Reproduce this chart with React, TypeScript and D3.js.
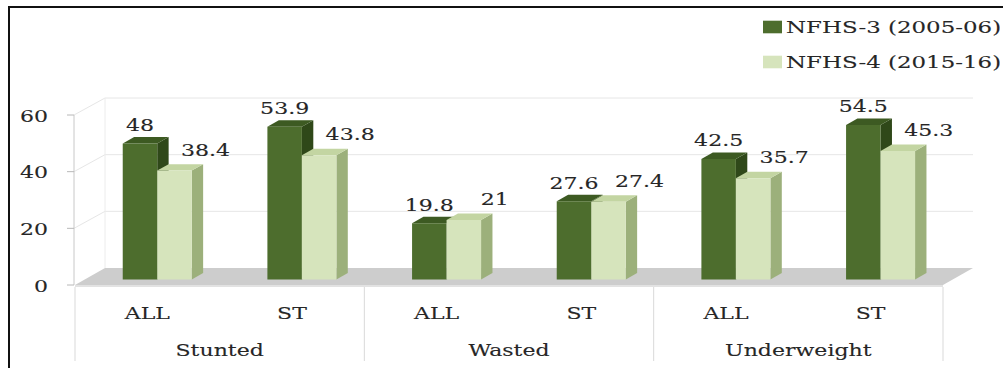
import React from "react";
import * as d3 from "d3";

// Nutrition indicators by survey round, 3-D clustered columns
const groups = ["Stunted", "Wasted", "Underweight"];
const subCats = ["ALL", "ST"];
const seriesNames = ["NFHS-3 (2005-06)", "NFHS-4 (2015-16)"];
const nfhs3 = [48, 53.9, 19.8, 27.6, 42.5, 54.5];
const nfhs4 = [38.4, 43.8, 21, 27.4, 35.7, 45.3];
const yTicks = [0, 20, 40, 60];

const W = 1003;
const H = 368;
const FONT = "'DejaVu Serif', serif";
const SX = 1.26; // horizontal stretch of all lettering
const TXT = "#262626";

// oblique depth offset of the back plane
const DX = 30;
const DY = -17;
const D0 = 0.33; // bar front depth
const D1 = 0.71; // bar back depth

const palette = [
  { front: "#4d6d2d", top: "#3d5a22", side: "#2f4819" },
  { front: "#d6e4bc", top: "#c3d5a2", side: "#9cb07b" },
];

const cells = groups.flatMap((g) => subCats.map((s) => ({ group: g, sub: s })));

function T({ x, y, anchor = "middle", children, size = 17.5, sx = SX }: any) {
  return (
    <text
      transform={`translate(${x},${y}) scale(${sx},1)`}
      textAnchor={anchor}
      fontFamily={FONT}
      fontSize={size}
      fill={TXT}
      stroke={TXT}
      strokeWidth={0.12}
    >
      {children}
    </text>
  );
}

export default function App() {
  const x = d3.scaleBand<number>().domain(d3.range(cells.length)).range([75, 943]).padding(0);
  const y = d3.scaleLinear().domain([0, 60]).range([285, 115]);
  const gx = d3.scaleBand<string>().domain(groups).range([75, 943]);
  const barW = 34.5;
  const inner = d3.scaleBand<number>().domain([0, 1]).range([-barW, barW]);

  const x0 = x.range()[0];
  const x1 = x.range()[1];
  const yB = (v: number) => y(v) + DY;

  const pt = (px: number, py: number, d: number) => `${px + d * DX},${py + d * DY}`;

  const bars: any[] = [];
  const labels: any[] = [];
  cells.forEach((_, i) => {
    const c = x(i)! + x.bandwidth() / 2;
    [nfhs3[i], nfhs4[i]].forEach((v, s) => {
      const l = c + inner(s)!;
      const r = l + barW;
      const b = y(0);
      const t = y(v);
      const col = palette[s];
      const front = `M${pt(l, b, D0)}L${pt(r, b, D0)}L${pt(r, t, D0)}L${pt(l, t, D0)}Z`;
      const top = `M${pt(l, t, D0)}L${pt(r, t, D0)}L${pt(r, t, D1)}L${pt(l, t, D1)}Z`;
      const side = `M${pt(r, b, D0)}L${pt(r, b, D1)}L${pt(r, t, D1)}L${pt(r, t, D0)}Z`;
      bars.push(
        <g key={`b${i}-${s}`}>
          <path d={side} fill={col.side} />
          <path d={top} fill={col.top} />
          <path d={front} fill={col.front} />
        </g>
      );
      const fc = (l + r) / 2 + D0 * DX;
      const fy = t + D0 * DY;
      labels.push(
        <T key={`l${i}-${s}`} x={s === 0 ? fc : fc + 31} y={s === 0 ? fy - 12.5 : fy - 15}>
          {String(v)}
        </T>
      );
    });
  });

  const floor = `M${x0},${y(0)}L${x1},${y(0)}L${x1 + DX},${yB(0)}L${x0 + DX},${yB(0)}Z`;

  return (
    <div style={{ position: "fixed", left: 0, top: 0, width: W, height: H, background: "#fff" }}>
      <svg width={W} height={H} style={{ display: "block" }}>
        <rect width={W} height={H} fill="#fff" />
        {/* walls: gridlines on side and back */}
        {yTicks.slice(1).map((v) => (
          <path
            key={`g${v}`}
            d={`M${x0 - 1},${y(v)}L${x0 + DX},${yB(v)}L${x1 + DX},${yB(v)}`}
            fill="none"
            stroke="#e6e6e6"
            strokeWidth={1}
          />
        ))}
        <line x1={x0 + DX} x2={x0 + DX} y1={yB(60)} y2={yB(0)} stroke="#ececec" />
        {/* floor */}
        <path
          d={`M${x0},${y(0)}L${x1},${y(0)}L${x1},${y(0) + 2}L${x0},${y(0) + 2}Z`}
          fill="#e2e2e2"
        />
        <path d={floor} fill="#cdcdcd" />
        {/* value axis */}
        <line x1={74} x2={74} y1={y(60)} y2={y(0)} stroke="#c8c8c8" />
        {yTicks.map((v) => (
          <g key={`t${v}`}>
            <line x1={67} x2={74} y1={y(v)} y2={y(v)} stroke="#b8b8b8" />
            <T x={48} y={y(v) + 6.5} anchor="end">
              {String(v)}
            </T>
          </g>
        ))}
        {bars}
        {labels}
        {/* category axis, two levels */}
        {d3.range(groups.length + 1).map((k) => {
          const xx = k < groups.length ? gx(groups[k])! : x1;
          return <line key={`s${k}`} x1={xx} x2={xx} y1={287} y2={361} stroke="#d9d9d9" />;
        })}
        {cells.map((c, i) => (
          <T key={`c${i}`} x={x(i)! + x.bandwidth() / 2} y={319}>
            {c.sub}
          </T>
        ))}
        {groups.map((g) => (
          <T key={g} x={gx(g)! + gx.bandwidth() / 2} y={356}>
            {g}
          </T>
        ))}
        {/* legend */}
        {seriesNames.map((n, s) => (
          <g key={n}>
            <rect x={763} y={20.7 + s * 35} width={19} height={12.6} fill={palette[s].front} />
            <T x={786} y={33.3 + s * 35} anchor="start" sx={1.31}>
              {n}
            </T>
          </g>
        ))}
        {/* frame */}
        <path d={`M${W},7L9,7L9,${H}`} fill="none" stroke="#111" strokeWidth={2} />
      </svg>
    </div>
  );
}
